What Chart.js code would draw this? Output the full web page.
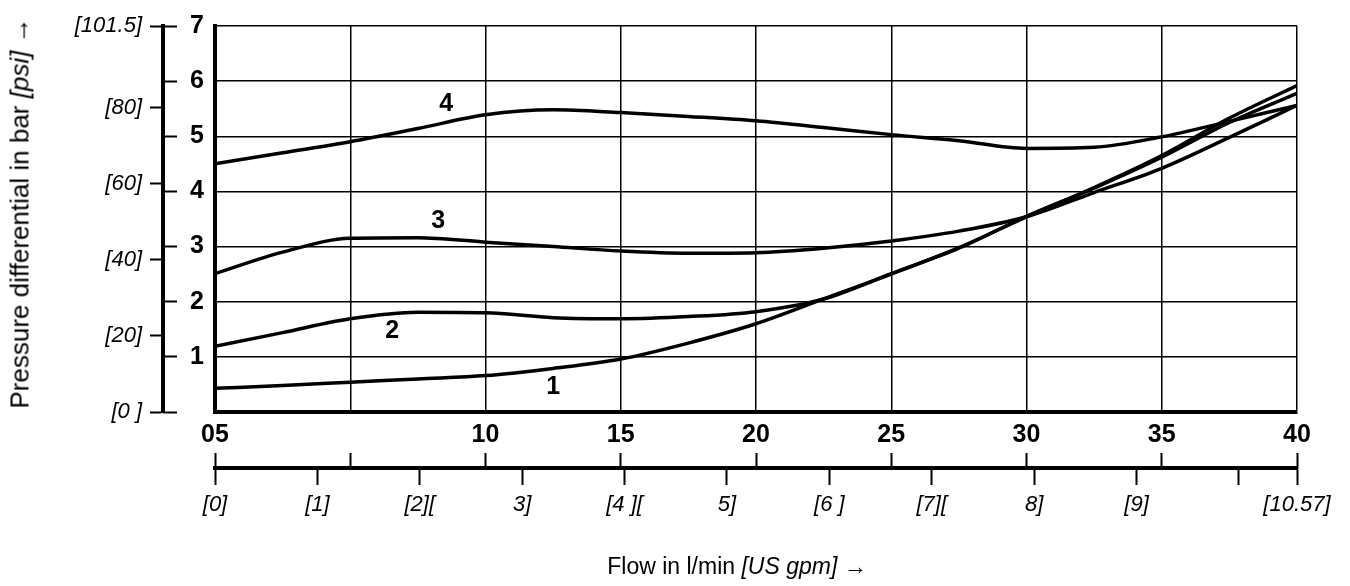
<!DOCTYPE html>
<html>
<head>
<meta charset="utf-8">
<script src="https://cdn.jsdelivr.net/npm/chart.js@4.4.1/dist/chart.umd.min.js"></script>
<style>
  html, body { margin: 0; padding: 0; background: #fff; }
  #wrap { position: relative; width: 1350px; height: 586px; }
  .axis-title {
    position: absolute;
    font-family: 'Liberation Sans', Arial, sans-serif;
    color: #000;
    white-space: nowrap;
  }
  #xTitle { font-size: 23px; left: 737px; top: 566px; transform: translate(-50%, -50%); }
  #yTitle { font-size: 26px; left: 20px; top: 213px; transform: translate(-50%, -50%) rotate(-90deg); }
</style>
</head>
<body>
<div id="wrap">
  <canvas id="chart"></canvas>
  <div class="axis-title" id="yTitle">Pressure differential in bar <i>[psi]</i> →</div>
  <div class="axis-title" id="xTitle">Flow in l/min <i>[US gpm]</i> →</div>
</div>
<script>
// flow in l/min
const flow = [0, 2.5, 5, 7.5, 10, 12.5, 15, 17.5, 20, 22.5, 25, 27.5, 30, 32.5, 35, 37.5, 40]

// pressure differential in bar, one list per curve
const curve1 = [0.43, 0.48, 0.54, 0.60, 0.66, 0.79, 0.96, 1.25, 1.60, 2.05, 2.50, 2.98, 3.54, 4.07, 4.65, 5.33, 5.92]
const curve2 = [1.19, 1.44, 1.69, 1.81, 1.80, 1.71, 1.69, 1.73, 1.82, 2.05, 2.51, 2.97, 3.55, 4.06, 4.62, 5.25, 5.78]
const curve3 = [2.51, 2.90, 3.15, 3.16, 3.08, 3.00, 2.92, 2.88, 2.89, 2.97, 3.10, 3.28, 3.54, 3.98, 4.42, 4.98, 5.56]
const curve4 = [4.50, 4.70, 4.90, 5.14, 5.39, 5.48, 5.43, 5.36, 5.28, 5.16, 5.03, 4.92, 4.78, 4.80, 4.99, 5.27, 5.56]

const curveNames = ['1', '2', '3', '4']
// where the curve numbers sit (flow, bar)
const curveLabelX = [12.5, 6.55, 8.25, 8.55]
const curveLabelY = [0.45, 1.46, 3.47, 5.58]

const psiTicks = [0, 20, 40, 60, 80, 101.5]
const psiLabels = ['[0 ]', '[20]', '[40]', '[60]', '[80]', '[101.5]']

const gpmTicks = [0, 1, 2, 3, 4, 5, 6, 7, 8, 9, 10]
const gpmLabels = ['[0]', '[1]', '[2][', '3]', '[4 ][', '5]', '[6 ]', '[7][', '8]', '[9]', '', '[10.57]']

const LPM_PER_GPM = 3.785411784
const FLOW_MAX = 40
const BAR_MAX = 7

const FAMILY = "'Liberation Sans', Arial, Helvetica, sans-serif"
const boldFont = { family: FAMILY, size: 25, weight: 'bold' }
const italicFont = { family: FAMILY, size: 22, style: 'italic' }

const flowLabel = v => {
  if (v === 0) return '05'
  if (v === 5) return ''
  return String(v)
}

const curveNumbers = {
  id: 'curveNumbers',
  afterDatasetsDraw (chart) {
    const { ctx } = chart
    const { x, y } = chart.scales
    ctx.save()
    ctx.font = `bold 25px ${FAMILY}`
    ctx.fillStyle = '#000'
    ctx.textAlign = 'center'
    ctx.textBaseline = 'middle'
    curveNames.forEach((name, i) => {
      ctx.fillText(name, x.getPixelForValue(curveLabelX[i]), y.getPixelForValue(curveLabelY[i]))
    })
    ctx.restore()
  }
}

const makeSet = (values) => ({
  data: flow.map((f, i) => ({ x: f, y: values[i] })),
  borderColor: '#000',
  borderWidth: 3.5,
  pointRadius: 0,
  fill: false,
  cubicInterpolationMode: 'monotone'
})

new Chart(document.getElementById('chart'), {
  type: 'line',
  data: {
    datasets: [curve1, curve2, curve3, curve4].map(makeSet)
  },
  options: {
    responsive: true,
    maintainAspectRatio: false,
    animation: false,
    layout: { padding: { top: 19, right: 53, bottom: 58, left: 0 } },
    plugins: { legend: { display: false }, tooltip: { enabled: false } },
    scales: {
      x: {
        type: 'linear',
        position: 'bottom',
        weight: 0,
        min: 0,
        max: FLOW_MAX,
        ticks: { stepSize: 5, autoSkip: false, maxRotation: 0, padding: 8, color: '#000', font: boldFont, callback: flowLabel },
        grid: { color: '#000', lineWidth: 1.5, drawTicks: false },
        border: { color: '#000', width: 4 },
        afterFit: s => { s.height = 41 }
      },
      flowMarks: {
        type: 'linear',
        position: 'bottom',
        weight: 1,
        min: 0,
        max: FLOW_MAX,
        ticks: { stepSize: 5, autoSkip: false, maxRotation: 0, padding: 0, callback: () => '' },
        grid: { drawOnChartArea: false, tickLength: 16, tickWidth: 2, tickColor: '#000' },
        border: { display: false },
        afterFit: s => { s.height = 15 }
      },
      gpm: {
        type: 'linear',
        position: 'bottom',
        weight: 2,
        min: 0,
        max: FLOW_MAX / LPM_PER_GPM,
        afterBuildTicks: s => {
          s.ticks = gpmTicks.concat([FLOW_MAX / LPM_PER_GPM]).map(v => ({ value: v }))
        },
        ticks: { autoSkip: false, maxRotation: 0, padding: 7, color: '#000', font: italicFont, callback: (v, i) => gpmLabels[i] },
        grid: { drawOnChartArea: false, tickLength: 17, tickWidth: 2, tickColor: '#000' },
        border: { color: '#000', width: 4 },
        afterFit: s => { s.height = 60 }
      },
      y: {
        position: 'left',
        weight: 0,
        min: 0,
        max: BAR_MAX,
        ticks: { stepSize: 1, padding: 11, color: '#000', font: boldFont, callback: v => (v === 0 ? '' : v) },
        grid: { color: '#000', lineWidth: 1.5, drawTicks: false },
        border: { color: '#000', width: 4 },
        afterFit: s => { s.width = 38 }
      },
      barMarks: {
        position: 'left',
        weight: 1,
        min: 0,
        max: BAR_MAX,
        ticks: { stepSize: 1, padding: 0, callback: () => '' },
        grid: { drawOnChartArea: false, tickLength: 14, tickWidth: 2, tickColor: '#000' },
        border: { display: false },
        afterFit: s => { s.width = 14 }
      },
      psi: {
        position: 'left',
        weight: 2,
        min: 0,
        max: 101.5,
        afterBuildTicks: s => { s.ticks = psiTicks.map(v => ({ value: v })) },
        ticks: { padding: 8, color: '#000', font: italicFont, callback: (v, i) => psiLabels[i] },
        grid: { drawOnChartArea: false, tickLength: 13, tickWidth: 2, tickColor: '#000' },
        border: { color: '#000', width: 4 },
        afterFit: s => { s.width = 163 }
      }
    }
  },
  plugins: [curveNumbers]
})
</script>
</body>
</html>
